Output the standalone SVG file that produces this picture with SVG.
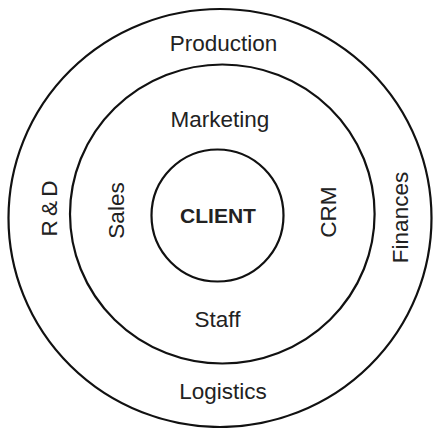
<svg xmlns="http://www.w3.org/2000/svg" width="433" height="428" viewBox="0 0 433 428">
<style>
.ring{fill:none;stroke:#111;stroke-width:2.2}
.t{font-family:"Liberation Sans",Arial,sans-serif;font-size:22.5px;fill:#222;text-anchor:middle}
.b{font-family:"Liberation Sans",Arial,sans-serif;font-size:21px;font-weight:bold;fill:#222;text-anchor:middle}
</style>
<rect width="433" height="428" fill="#fff"/>
<g id="outer">
<ellipse class="ring" cx="220" cy="218" rx="211.5" ry="209"/>
<text class="t" x="223.5" y="51">Production</text>
<text class="t" x="223" y="399">Logistics</text>
<text class="t" transform="translate(57,209) rotate(-90)" letter-spacing="-1">R &amp; D</text>
<text class="t" transform="translate(408,217.5) rotate(-90)">Finances</text>
</g>
<g id="middle">
<ellipse class="ring" cx="222.3" cy="214" rx="152.3" ry="149.5"/>
<text class="t" x="220" y="126.5">Marketing</text>
<text class="t" x="217.5" y="327">Staff</text>
<text class="t" transform="translate(124,210.5) rotate(-90)">Sales</text>
<text class="t" transform="translate(336,212) rotate(-90)">CRM</text>
</g>
<g id="client">
<circle class="ring" cx="217.5" cy="215.5" r="66"/>
<text class="b" x="218" y="223.3">CLIENT</text>
</g>
<g id="connectors"/>
</svg>
